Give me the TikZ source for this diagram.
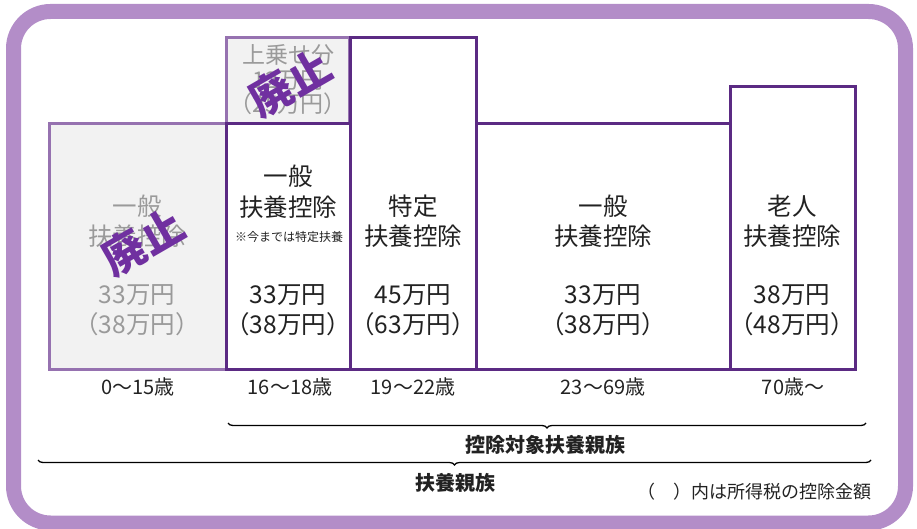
\documentclass[tikz,border=0pt]{standalone}
\usepackage{fontspec}
\setmainfont{Noto Sans CJK JP}
\usetikzlibrary{decorations.pathreplacing}
\definecolor{frame}{HTML}{B38DC8}
\definecolor{deep}{HTML}{5B2A83}
\definecolor{pale}{HTML}{9672B0}
\definecolor{stamp}{HTML}{7030A0}
\definecolor{ash}{HTML}{9A9A9A}
\definecolor{shade}{HTML}{F2F2F2}
\definecolor{ink}{HTML}{222222}
\begin{document}
\begin{tikzpicture}
  [x=1pt,y=-1pt,every node/.style={inner sep=0pt,outer sep=0pt}]
  \tikzstyle{now} = [draw=deep,line width=3pt,fill=white,shape=rectangle]
  \tikzstyle{old} = [draw=pale,line width=3pt,fill=shade,shape=rectangle]
  \tikzstyle{big} = [font=\fontsize{24.5}{30}\selectfont,align=center,text=ink]
  \tikzstyle{gone} = [big,text=ash]
  \tikzstyle{age} = [font=\fontsize{20}{20}\selectfont,text=ink]
  \tikzstyle{haishi} = [font=\fontsize{43}{43}\selectfont\bfseries,text=stamp,rotate=30]
  \tikzstyle{group} = [font=\fontsize{20}{20}\selectfont\bfseries,text=ink]
  \tikzstyle{span} = [decorate,decoration={brace,mirror,amplitude=5pt},line width=1.3pt]
  \useasboundingbox (0,0) rectangle (917,529);
  \draw[frame,line width=15pt,rounded corners=37pt] (13.5,11.5) rectangle (905.5,523);
  % boxes
  \node[old,minimum width=177pt,minimum height=245pt] (kid) at (137.5,246.5) {};
  \node[old,minimum width=123pt,minimum height=86pt] (extra) at (287.5,81) {};
  \node[now,minimum width=124pt,minimum height=245pt] (teen) at (288,246.5) {};
  \node[now,minimum width=126pt,minimum height=331pt] (tokutei) at (413,203.5) {};
  \node[now,minimum width=254pt,minimum height=245pt] (ippan) at (603,246.5) {};
  \node[now,minimum width=125pt,minimum height=282pt] (rojin) at (792.5,228) {};
  % texts
  \node[gone] (kidname) at (137,221) {一般\\扶養控除};
  \node[gone] (kidyen) at (137,310) {33万円\\（38万円）};
  \node[gone,font=\fontsize{23}{24.5}\selectfont] (extrayen) at (288,80) {上乗せ分\\12万円\\（25万円）};
  \node[big,font=\fontsize{24.5}{31}\selectfont] (teenname) at (288,192) {一般\\扶養控除};
  \node[font=\fontsize{12}{12}\selectfont,text=ink] (teennote) at (289,237) {※今までは特定扶養};
  \node[big] (teenyen) at (288,310) {33万円\\（38万円）};
  \node[big] (tokuname) at (413,221) {特定\\扶養控除};
  \node[big] (tokuyen) at (413,310) {45万円\\（63万円）};
  \node[big] (ippanname) at (603,221) {一般\\扶養控除};
  \node[big] (ippanyen) at (603,310) {33万円\\（38万円）};
  \node[big] (rojinname) at (792,221) {老人\\扶養控除};
  \node[big] (rojinyen) at (792,310) {38万円\\（48万円）};
  % stamps
  \node[haishi] (stampkid) at (143,242) {廃止};
  \node[haishi] (stampextra) at (290,83) {廃止};
  % ages
  \node[age] (a0) at (138,387) {0～15歳};
  \node[age] (a16) at (290,387) {16～18歳};
  \node[age] (a19) at (413,387) {19～22歳};
  \node[age] (a23) at (603,387) {23～69歳};
  \node[age] (a70) at (793,387) {70歳～};
  % braces
  \coordinate (b1l) at (228,423);
  \coordinate (b1r) at (866,423);
  \coordinate (b2l) at (38,460);
  \coordinate (b2r) at (871,460);
  \draw[span] (b1l) -- (b1r);
  \draw[span] (b2l) -- (b2r);
  \node[group] (taisho) at (545,445) {控除対象扶養親族};
  \node[group] (fuyo) at (455,483) {扶養親族};
  \node[font=\fontsize{18}{18}\selectfont,text=ink,anchor=east] (memo) at (871,492) {（　）内は所得税の控除金額};
\end{tikzpicture}
\end{document}
